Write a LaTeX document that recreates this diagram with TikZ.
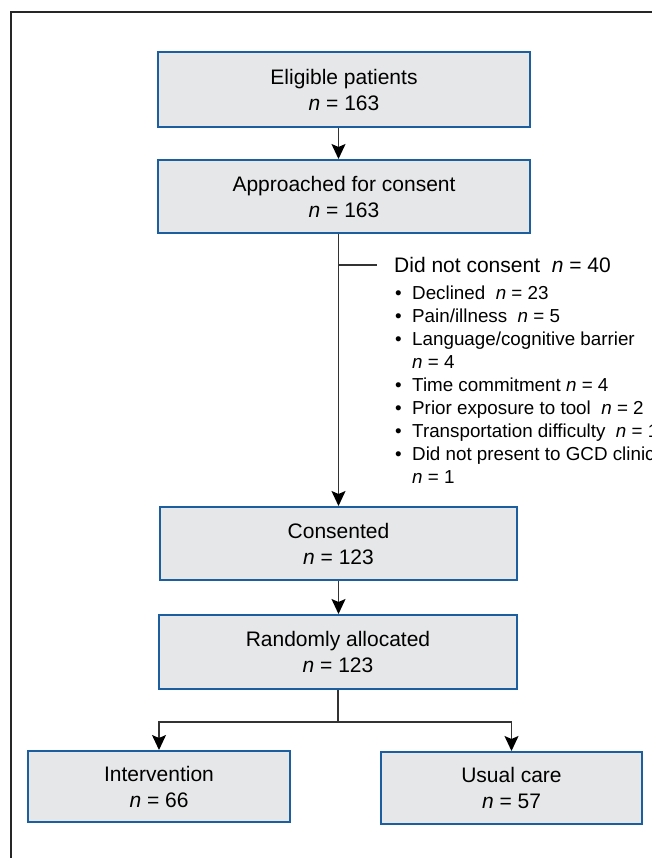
\documentclass[tikz,border=0pt]{standalone}
\usepackage{fontspec}
\setmainfont{Liberation Sans}
\usetikzlibrary{arrows.meta}
\definecolor{boxblue}{HTML}{1B5FA0}
\definecolor{boxgray}{HTML}{E6E7E8}
\definecolor{linegray}{HTML}{333333}
\newcommand{\nn}[1]{\textit{n} = #1}
\newcommand{\blt}{\makebox[17pt][l]{\textbullet}}
\tikzset{
  stage/.style={draw=boxblue, line width=2pt, fill=boxgray, align=center,
    font=\fontsize{21}{26}\selectfont, inner sep=0pt},
  flow/.style={draw=linegray, line width=1.4pt},
  reasons/.style={align=left, inner sep=0pt, font=\fontsize{18.8}{23}\selectfont},
}
\begin{document}
\begin{tikzpicture}[x=1pt, y=-1pt, >={Stealth[length=15pt,width=14pt,inset=3pt,color=black]}]
\useasboundingbox (0,0) rectangle (652,858);
% frame
\draw[line width=1.6pt, black!85] (11,858) -- (11,12) -- (652,12);

% stages
\node[stage, minimum width=372pt, minimum height=75pt] (elig) at (344,89.5) {Eligible patients\\\nn{163}};
\node[stage, minimum width=372pt, minimum height=73pt] (appr) at (344,196.5) {Approached for consent\\\nn{163}};
\node[stage, minimum width=357pt, minimum height=73pt] (cons) at (338.5,543.5) {Consented\\\nn{123}};
\node[stage, minimum width=358pt, minimum height=74pt] (rand) at (338,652) {Randomly allocated\\\nn{123}};
\node[stage, minimum width=262pt, minimum height=71pt] (int) at (159,786.5) {Intervention\\\nn{66}};
\node[stage, minimum width=261pt, minimum height=72pt] (usual) at (511.5,788) {Usual care\\\nn{57}};

% exclusions
\node[anchor=west, inner xsep=17pt, inner ysep=0pt, font=\fontsize{21}{25}\selectfont] (dnc) at (377,265) {Did not consent \ \nn{40}};
\node[reasons, anchor=north west] (why) at (395,286) {%
\blt Declined \ \nn{23}\\
\blt Pain/illness \ \nn{5}\\
\blt Language/cognitive barrier\\
\hphantom{\blt}\nn{4}\\
\blt Time commitment \nn{4}\\
\blt Prior exposure to tool \ \nn{2}\\
\blt Transportation difficulty \ \nn{1}\\
\blt Did not present to GCD clinic\\
\hphantom{\blt}\nn{1}};

% connectors
\draw[flow,->] (elig.south -| cons.north) -- (appr.north -| cons.north);
\draw[flow,->] (appr.south -| cons.north) -- (cons.north);
\draw[flow] (dnc.west -| cons.north) -- (dnc.west);
\draw[flow,->] (cons.south) -- (rand.north -| cons.south);
\draw[flow] (rand.south) -- ++(0,32) coordinate (split);
\draw[flow,->] (split) -| (int.north);
\draw[flow,->] (split) -| (usual.north);
\end{tikzpicture}
\end{document}
